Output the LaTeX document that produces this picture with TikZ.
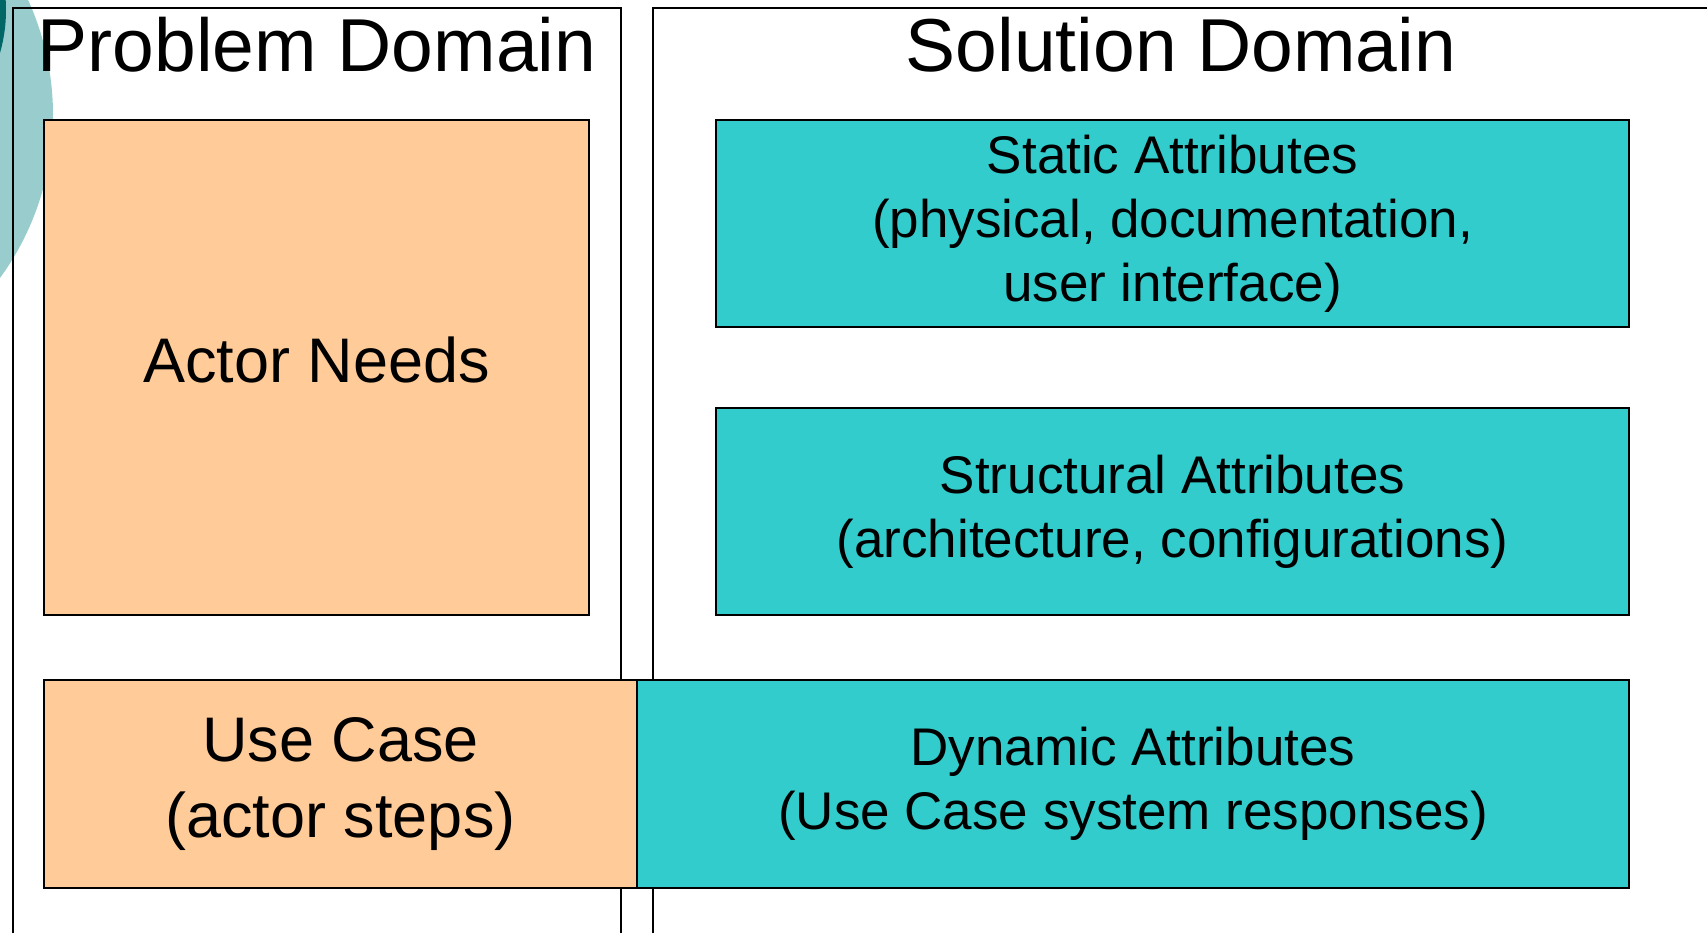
\documentclass[tikz,border=0pt]{standalone}
\usepackage{fontspec}
\setmainfont{Liberation Sans}
\definecolor{peach}{HTML}{FFCC99}
\definecolor{aqua}{HTML}{33CCCC}
\definecolor{mist}{HTML}{99CCCC}
\definecolor{deepteal}{HTML}{006666}
\begin{document}
\begin{tikzpicture}[x=1pt,y=-1pt,
  frameline/.style={draw=black,line width=2pt},
  box/.style={draw=black,line width=2pt,rectangle,inner sep=0pt,outer sep=0pt,align=center,text=black},
  need/.style={box,fill=peach},
  attr/.style={box,fill=aqua},
  bigtext/.style={font=\fontsize{63}{76}\selectfont},
  midtext/.style={font=\fontsize{53}{64}\selectfont},
  title/.style={anchor=base,inner sep=0pt,font=\fontsize{75}{90}\selectfont}]
\useasboundingbox (0,0) rectangle (1707,933);
% decorative discs at the top left corner
\fill[mist] (-224,115) circle (277);
\fill[deepteal] (-150,10) circle (156);
% the two domain frames, open at the bottom
\draw[frameline] (13,950) |- (621,8) -- (621,950);
\draw[frameline] (653,950) |- (1720,8);
\node[title] (ptitle) at (317,72) {Problem Domain};
\node[title] (stitle) at (1181,72) {Solution Domain};
% problem domain
\node[need,bigtext,text depth=16pt,minimum width=545,minimum height=495] (needs) at (316.5,367.5) {Actor Needs};
\node[need,bigtext,minimum width=593,minimum height=208] (usecase) at (340.5,784) {Use Case\\(actor steps)};
% solution domain
\node[attr,midtext,minimum width=913,minimum height=207] (static) at (1172.5,223.5) {Static Attributes\\(physical, documentation,\\user interface)};
\node[attr,midtext,minimum width=913,minimum height=207] (struct) at (1172.5,511.5) {Structural Attributes\\(architecture, configurations)};
\node[attr,midtext,minimum width=992,minimum height=208] (dynamic) at (1133,784) {Dynamic Attributes\\(Use Case system responses)};
\end{tikzpicture}
\end{document}
